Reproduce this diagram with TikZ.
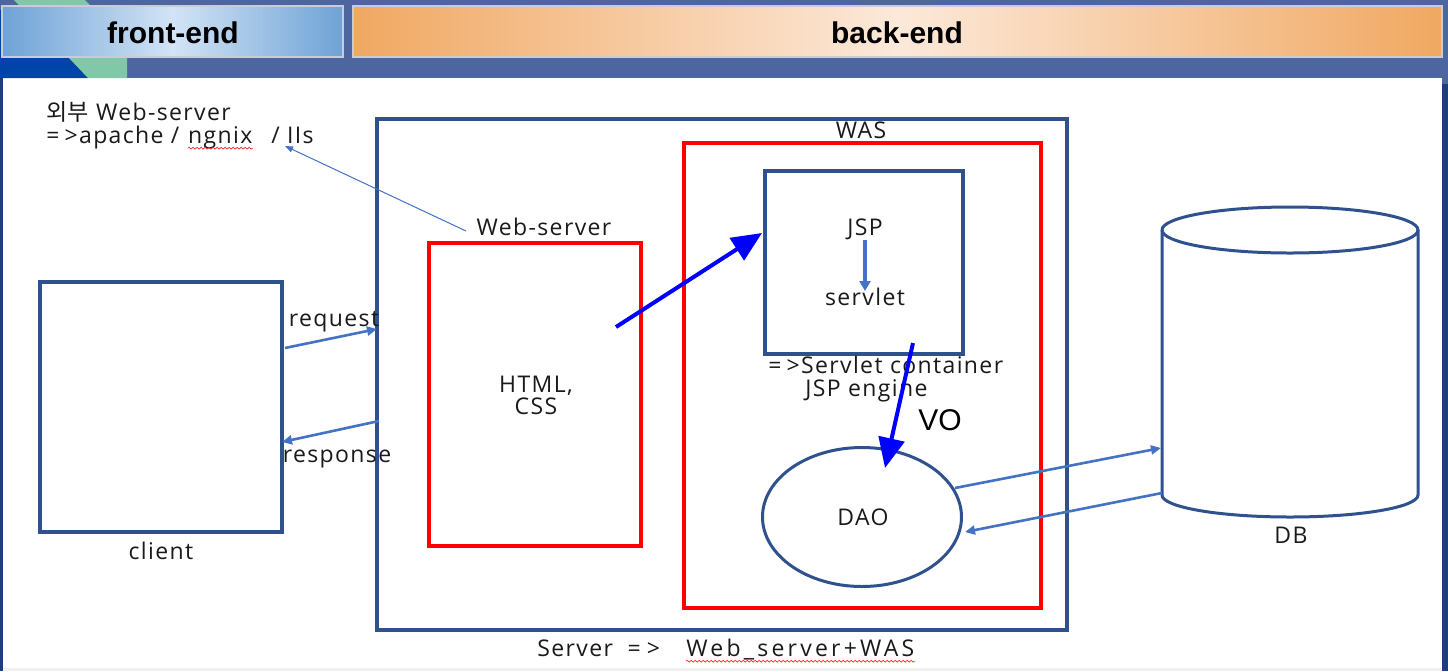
\documentclass[tikz,border=0pt]{standalone}
\usepackage{fontspec}
\setmainfont{Open Sans}[LetterSpace=6]
\newfontfamily\krfont{Noto Sans CJK KR}
\newfontfamily\hdrfont{Liberation Sans}
\usetikzlibrary{arrows.meta,shapes.geometric,decorations.pathmorphing}
\definecolor{band}{HTML}{4D66A0}
\definecolor{navy}{HTML}{1F3C80}
\definecolor{stripeblue}{HTML}{0044AA}
\definecolor{stripegreen}{HTML}{80C8A8}
\definecolor{feblue}{HTML}{6FA2D6}
\definecolor{felight}{HTML}{D2E4F5}
\definecolor{beorange}{HTML}{F0A862}
\definecolor{belight}{HTML}{FCE9DA}
\definecolor{hdrborder}{HTML}{C8CCD8}
\definecolor{boxblue}{HTML}{2F528F}
\definecolor{linkblue}{HTML}{4472C4}
\definecolor{txtc}{HTML}{1A1A1A}
\newcommand\arr{=\kern2.5pt>}
\begin{document}
\begin{tikzpicture}[x=0.5pt,y=-0.5pt,
  txt/.style={font=\fontsize{11.5}{13}\selectfont, text=txtc, inner sep=0pt},
  hdr/.style={font=\hdrfont\bfseries\fontsize{15}{17}\selectfont, text=black, inner sep=0pt},
  vostyle/.style={font=\hdrfont\fontsize{15}{17}\selectfont, text=black, inner sep=0pt},
  bluebox/.style={draw=boxblue, line width=1.6pt, rectangle, inner sep=0pt},
  redbox/.style={draw=red, line width=1.7pt, rectangle, inner sep=0pt},
  blueell/.style={draw=boxblue, line width=1.5pt, ellipse, inner sep=0pt},
  thickarrow/.style={draw=blue, line width=2pt, -{Triangle[length=15pt,width=13pt]}},
  linkarrow/.style={draw=linkblue, line width=1.3pt, -{Triangle[length=5pt,width=4.5pt]}},
  pointer/.style={draw=linkblue, line width=0.5pt, -{Triangle[length=4pt,width=3pt]}},
  wavy/.style={draw=red!85, line width=0.35pt, decorate, decoration={snake, amplitude=0.45pt, segment length=2pt}}
]
\useasboundingbox (0,0) rectangle (1448,671);
% background frame
\fill[band] (0,0) rectangle (1448,78);
\fill[navy] (0,78) rectangle (3,671);
\fill[navy] (1442,78) rectangle (1448,671);
\fill[band] (1442,78) rectangle (1448,84);
\fill[white] (3,78) rectangle (1442,668);
\fill[black!6] (3,668) rectangle (1442,671);
\fill[stripeblue] (0,10) -- (23,10) -- (88,78) -- (0,78) -- cycle;
\fill[stripegreen] (14,0) -- (85,0) -- (127,44) -- (127,78) -- (88,78) -- cycle;
% headers
\shade[left color=feblue, right color=feblue, middle color=felight] (2,6) rectangle (343,57);
\draw[hdrborder, line width=0.6pt] (2,6) rectangle (343,57);
\shade[left color=beorange, right color=beorange, middle color=belight] (353,6) rectangle (1442,57);
\draw[hdrborder, line width=0.6pt] (353,6) rectangle (1442,57);
\node[hdr, anchor=base] (fe) at (173,43) {front-end};
\node[hdr, anchor=base] (be) at (897,43) {back-end};

% top-left note
\node[txt, anchor=base west] (ext1) at (46,120) {{\krfont 외부} Web-server};
\node[txt, anchor=base west] (ext2a) at (46,143) {\arr apache /};
\node[txt, anchor=base west] (ngx) at ([xshift=4pt]ext2a.base east) {ngnix};
\node[txt, anchor=base west] (ext2c) at ([xshift=9pt]ngx.base east) {/ IIs};
\draw[wavy] ([yshift=-2.6pt]ngx.base west) -- ([yshift=-2.6pt]ngx.base east);

% boxes
\node[bluebox, minimum width=121pt, minimum height=125pt] (client) at (161,407) {};
\node[bluebox, minimum width=345pt, minimum height=255.5pt] (server) at (722,374.5) {};
\node[redbox, minimum width=106pt, minimum height=151.5pt] (websrv) at (535,394.5) {};
\node[redbox, minimum width=178.5pt, minimum height=232.5pt] (was) at (862.5,375.5) {};
\node[bluebox, minimum width=99pt, minimum height=91.5pt] (jspbox) at (864,262.5) {};
\node[blueell, minimum width=99.5pt, minimum height=69.5pt] (dao) at (862,517) {};

% DB cylinder
\coordinate (db) at (1290,362);
\draw[boxblue, line width=1.5pt] (1162,230) -- (1162,495)
  arc[start angle=180, end angle=360, x radius=64pt, y radius=11pt]
  -- (1418,230)
  arc[start angle=0, end angle=180, x radius=64pt, y radius=11.5pt];
\draw[boxblue, line width=1.5pt] (1162,230)
  arc[start angle=180, end angle=360, x radius=64pt, y radius=11.5pt];

% labels
\node[txt, anchor=base] (wslabel) at (544,235) {Web-server};
\node[txt, anchor=base] (waslabel) at (861,138) {WAS};
\node[txt, anchor=base] (jsp) at (865,235) {JSP};
\node[txt, anchor=base] (servlet) at (865,305) {servlet};
\node[txt, anchor=base west] (sc1) at (768,373) {\arr Servlet container};
\node[txt, anchor=base west] (sc2) at (805,396) {JSP engine};
\node[vostyle, anchor=base] (vo) at (940,430) {VO};
\node[txt, anchor=base] (html) at (536,392) {HTML,};
\node[txt, anchor=base] (css) at (536,414) {CSS};
\node[txt, anchor=base] (daolbl) at (863,525) {DAO};
\node[txt, anchor=base] (dblbl) at (1291,543) {DB};
\node[txt, anchor=base] (clientlbl) at (161,559) {client};
\node[txt, anchor=base] (req) at (334,326) {request};
\node[txt, anchor=base] (resp) at (337,462) {response};
\node[txt, anchor=base west] (srv1) at (537,656) {Server\ \ =\kern3pt>};
\node[txt, anchor=base west] (srv2) at (686,656) {\addfontfeature{LetterSpace=14}Web\_server+WAS};
\draw[wavy] ([yshift=-2.6pt]srv2.base west) -- ([yshift=-2.6pt]srv2.base east);

% connector end points
\coordinate (reqs) at (285,348);
\coordinate (reqe) at (377,329);
\coordinate (resps) at (379,421);
\coordinate (respe) at (282,442);
\coordinate (dbin) at (1161,448);
\coordinate (daoout) at (955,488);
\coordinate (dbout) at (1162,493);
\coordinate (daoin) at (965,532);
\coordinate (htmlpt) at (616,327);
\coordinate (jspin) at (762,233);
\coordinate (jspout) at (913,343);
\coordinate (daotop) at (885,468);
\coordinate (jspa) at (865,240);
\coordinate (servb) at (865,291);
\coordinate (wsptr) at (466,231);
\coordinate (nginxpt) at (285,146);

% connectors
\draw[linkarrow] (reqs) -- (reqe);
\draw[linkarrow] (resps) -- (respe);
\draw[linkarrow] (daoout) -- (dbin);
\draw[linkarrow] (dbout) -- (daoin);
\draw[draw=linkblue, line width=1.6pt, -{Triangle[length=5pt,width=5.5pt]}] (jspa) -- (servb);
\draw[pointer] (wsptr) -- (nginxpt);
\draw[thickarrow] (htmlpt) -- (jspin);
\draw[thickarrow] (jspout) -- (daotop);
\end{tikzpicture}
\end{document}
